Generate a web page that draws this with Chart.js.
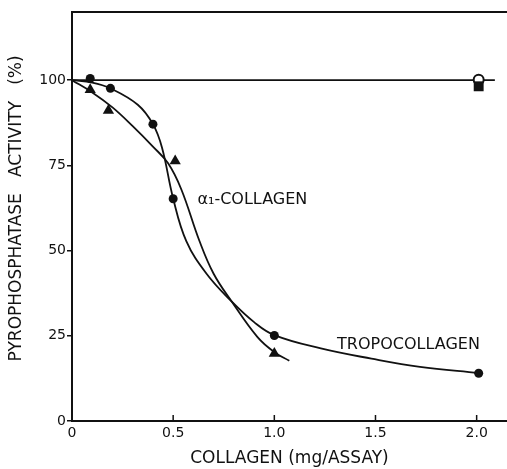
<!DOCTYPE html>
<html>
<head>
<meta charset="utf-8">
<script src="https://cdn.jsdelivr.net/npm/chart.js@4/dist/chart.umd.min.js"></script>
<style>
  html, body { margin: 0; padding: 0; background: #fff; }
  #wrap { width: 507px; height: 469px; }
</style>
</head>
<body>
<div id="wrap"><canvas id="chart" width="507" height="469"></canvas></div>
<script>
/* ===================== DATA ===================== */

// measured points, tropocollagen (filled circles)
const tropoX = [0.09, 0.19, 0.40, 0.50, 1.0, 2.01];
const tropoY = [100.5, 97.6, 87.1, 65.2, 25.1, 14.0];

// measured points, alpha1-collagen (filled triangles)
const alphaX = [0.09, 0.18, 0.51, 1.0];
const alphaY = [97.2, 91.1, 76.3, 19.8];

// control points at 2.0 mg (open circle + filled square)
const ctrlCircleX = [2.01];
const ctrlCircleY = [100.1];
const ctrlSquareX = [2.01];
const ctrlSquareY = [98.2];

// hand-drawn fitted curves
const tropoCurveX = [0, 0.1, 0.19, 0.325, 0.40, 0.445, 0.50, 0.565, 0.665, 0.79, 0.90, 1.0, 1.23, 1.48, 1.72, 2.01];
const tropoCurveY = [100, 99.3, 97.6, 92.8, 87.1, 80.2, 65.3, 52.8, 43.2, 35, 29, 25.2, 21.3, 18.3, 15.9, 14.1];
const alphaCurveX = [0, 0.1, 0.2, 0.3, 0.4, 0.475, 0.54, 0.63, 0.70, 0.79, 0.917, 1.0, 1.074];
const alphaCurveY = [100, 96.4, 92, 86.5, 80.5, 75.6, 68, 52.8, 43.2, 35, 24.6, 20.2, 17.7];

// 100 % reference line
const refLineX = [0, 2.09];
const refLineY = [100, 100];

// axis ticks
const xTicks = [0, 0.5, 1.0, 1.5, 2.0];
const xTickLabels = ["0", "0.5", "1.0", "1.5", "2.0"];
const yTicks = [0, 25, 50, 75, 100];

// curve labels
const labelText = ["\u03b1\u2081-COLLAGEN", "TROPOCOLLAGEN"];
const labelX = [0.62, 1.31];
const labelY = [64.8, 22.4];

/* ===================== HELPERS ===================== */

const INK = "#111";
const FONT = "'DejaVu Sans', sans-serif";

const toPoints = (xs, ys) => xs.map((x, i) => ({ x, y: ys[i] }));

/* ===================== PLUGIN: frame, inner ticks, labels ===================== */

const decorations = {
  id: "decorations",
  afterDraw(chart) {
    const { ctx, chartArea, scales } = chart;
    ctx.save();
    ctx.strokeStyle = INK;

    // top border
    ctx.lineWidth = 2;
    ctx.beginPath();
    ctx.moveTo(chartArea.left, chartArea.top);
    ctx.lineTo(chartArea.right, chartArea.top);
    ctx.stroke();

    // x ticks point up into the plot
    ctx.lineWidth = 1.5;
    xTicks.forEach((v) => {
      if (v === 0) return;
      const px = scales.x.getPixelForValue(v);
      ctx.beginPath();
      ctx.moveTo(px, chartArea.bottom);
      ctx.lineTo(px, chartArea.bottom - 6);
      ctx.stroke();
    });

    // curve labels
    ctx.fillStyle = INK;
    ctx.font = "16px " + FONT;
    ctx.textAlign = "left";
    ctx.textBaseline = "middle";
    labelText.forEach((t, i) => {
      ctx.fillText(t, scales.x.getPixelForValue(labelX[i]), scales.y.getPixelForValue(labelY[i]));
    });
    ctx.restore();
  },
};

/* ===================== CHART ===================== */

const lineStyle = {
  showLine: true,
  pointRadius: 0,
  borderColor: INK,
  borderWidth: 1.8,
  fill: false,
};

new Chart(document.getElementById("chart"), {
  type: "scatter",
  data: {
    datasets: [
      {
        data: toPoints(ctrlSquareX, ctrlSquareY),
        pointStyle: "rect",
        pointRadius: 7,
        backgroundColor: INK,
        borderColor: INK,
        borderWidth: 0,
      },
      {
        data: toPoints(ctrlCircleX, ctrlCircleY),
        pointStyle: "circle",
        pointRadius: 5,
        backgroundColor: "#fff",
        borderColor: INK,
        borderWidth: 2,
      },
      {
        data: toPoints(tropoX, tropoY),
        pointStyle: "circle",
        pointRadius: 4.5,
        backgroundColor: INK,
        borderColor: INK,
        borderWidth: 0,
      },
      {
        data: toPoints(alphaX, alphaY),
        pointStyle: "triangle",
        pointRadius: 6.5,
        backgroundColor: INK,
        borderColor: INK,
        borderWidth: 0,
      },
      { ...lineStyle, data: toPoints(tropoCurveX, tropoCurveY), tension: 0.4 },
      { ...lineStyle, data: toPoints(alphaCurveX, alphaCurveY), tension: 0.4 },
      { ...lineStyle, data: toPoints(refLineX, refLineY), tension: 0 },
    ],
  },
  options: {
    responsive: false,
    animation: false,
    layout: { autoPadding: false, padding: { top: 12, right: 0, bottom: 0, left: 0 } },
    plugins: {
      legend: { display: false },
      tooltip: { enabled: false },
    },
    scales: {
      x: {
        type: "linear",
        min: 0,
        max: 2.15,
        afterBuildTicks: (s) => { s.ticks = xTicks.map((v) => ({ value: v })); },
        afterFit: (s) => { s.height = 48; },
        ticks: {
          color: INK,
          font: { family: FONT, size: 14 },
          padding: 4,
          maxRotation: 0,
          callback: (v) => xTickLabels[xTicks.indexOf(v)],
        },
        grid: { display: true, drawOnChartArea: false, drawTicks: false },
        border: { display: true, color: INK, width: 2 },
        title: {
          display: true,
          text: "COLLAGEN (mg/ASSAY)",
          color: INK,
          font: { family: FONT, size: 17 },
          padding: { top: 0, bottom: 0 },
        },
      },
      y: {
        type: "linear",
        min: 0,
        max: 120,
        afterBuildTicks: (s) => { s.ticks = yTicks.map((v) => ({ value: v })); },
        afterFit: (s) => { s.width = 72; },
        ticks: {
          color: INK,
          font: { family: FONT, size: 14 },
          padding: 1,
        },
        grid: {
          display: true,
          drawOnChartArea: false,
          drawTicks: true,
          tickLength: 5,
          color: INK,
          lineWidth: 1.5,
        },
        border: { display: true, color: INK, width: 2 },
        title: {
          display: true,
          text: "   PYROPHOSPHATASE   ACTIVITY   (%)",
          color: INK,
          font: { family: FONT, size: 17 },
          padding: { top: 6, bottom: 0 },
        },
      },
    },
  },
  plugins: [decorations],
});
</script>
</body>
</html>
